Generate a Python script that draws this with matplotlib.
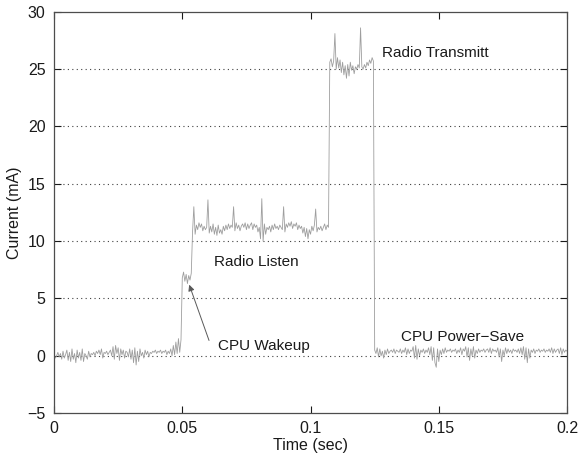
import numpy as np
import matplotlib
matplotlib.use('Agg')
import matplotlib.pyplot as plt

plt.rcParams['font.family'] = ['Liberation Sans', 'DejaVu Sans']

dt = 0.0005

idle_before = [0.1, -0.2, 0.0, 0.3, -0.1, 0.2, -0.3, 0.4, -0.2, 0.1,
               0.5, -0.4, 0.3, -0.5, 0.6, -0.3, 0.2, -0.6, 0.5, -0.2,
               0.3, -0.4, 0.6, -0.5, 0.2, 0.0, -0.3, 0.4, -0.1, 0.2,
               0.1, 0.3, 0.0, 0.4, 0.2, 0.5, 0.1, 0.6, -0.2, 0.3,
               0.2, 0.4, 0.1, 0.3, 0.5, 0.0, 0.8, -0.3, 0.9, 0.2,
               0.7, -0.4, 0.6, 0.1, 0.5, -0.2, 0.4, 0.3, -0.1, 0.6,
               -0.3, 0.5, -0.6, 0.7, -0.8, 0.4, -0.5, 0.6, 0.0, 0.3,
               -0.2, 0.5, 0.1, 0.4, -0.1, 0.3, 0.2, 0.4, 0.3, 0.5,
               0.2, 0.4, 0.3, 0.5, 0.2, 0.4, 0.3, 0.5, 0.1, 0.4,
               0.2, 0.6, 0.0, 0.9, 0.1, 1.2, 0.2, 1.5, 0.3, 1.4]
wakeup = [6.8, 7.3, 6.5, 7.1, 6.3, 7.0, 6.6, 7.2]
listen = [10.8, 13.0, 10.6, 11.4, 11.0, 11.6, 11.2, 11.5, 10.9, 11.3,
          11.0, 11.2, 13.6, 10.7, 11.3, 10.8, 11.5, 10.6, 11.2, 10.5,
          11.4, 10.7, 11.0, 10.6, 11.3, 10.9, 11.4, 11.0, 11.5, 11.1,
          11.4, 11.2, 13.0, 10.9, 11.6, 11.1, 11.4, 10.9, 11.3, 11.5,
          11.2, 11.6, 11.0, 11.5, 11.1, 11.4, 11.6, 11.0, 11.5, 11.2,
          11.4, 10.8, 11.2, 10.2, 13.7, 10.0, 11.5, 10.6, 11.2, 11.0,
          11.3, 10.8, 11.4, 11.0, 11.5, 11.1, 11.3, 11.0, 11.4, 11.2,
          11.0, 13.0, 10.8, 11.5, 11.2, 11.6, 11.3, 11.7, 11.1, 11.5,
          11.3, 11.6, 11.0, 11.4, 11.1, 11.3, 10.7, 11.2, 10.4, 11.1,
          10.2, 11.0, 10.6, 11.3, 10.9, 11.4, 12.8, 10.8, 11.2, 11.0,
          11.3, 10.9, 11.2, 11.5, 11.0, 11.4, 11.2]
transmit = [25.6, 25.9, 25.2, 25.7, 28.1, 25.0, 26.0, 25.1, 25.8, 24.7,
            25.6, 24.5, 25.3, 24.2, 25.4, 24.4, 25.6, 24.9, 25.3, 24.6,
            25.2, 25.0, 25.4, 25.1, 28.6, 25.2, 25.0, 25.4, 25.1, 25.6,
            25.3, 25.8, 25.5, 26.0, 25.7]
power_save = [0.5, 0.2, 0.7, -0.1, 0.6, 0.0, 0.4, -0.2, 0.5, 0.1,
              0.6, 0.2, 0.4, 0.5, 0.3, 0.6, 0.2, 0.5, 0.4, 0.3,
              0.6, 0.2, 0.5, 0.3, 0.7, 0.1, 0.6, 0.2, 0.5, 0.4,
              0.8, -0.2, 0.9, -0.3, 0.6, 0.0, 0.5, 0.3, 0.6, 0.2,
              0.5, 0.3, 0.7, 0.1, 0.8, -0.4, 0.7, -0.6, -1.0, 0.6,
              -0.5, 0.5, 0.1, 0.6, 0.2, 0.7, 0.3, 0.5, 0.4, 0.6,
              0.3, 0.5, 0.4, 0.6, 0.2, 0.5, 0.3, 0.7, 0.1, 0.6,
              0.4, 0.8, -0.1, 0.7, -0.4, 0.6, 0.0, 0.8, -0.2, 0.5,
              0.2, 0.6, 0.3, 0.5, 0.4, 0.6, 0.3, 0.5, 0.6, 0.3,
              0.7, 0.2, 0.6, 0.4, 0.5, 0.3, 0.7, -0.1, 0.6, -0.5,
              0.5, 0.0, 0.7, 0.2, 0.6, 0.3, 0.5, 0.2, 0.6, 0.4,
              0.5, 0.3, 0.6, 0.2, 0.7, 0.1, 0.8, -0.3, 0.7, -0.6,
              0.6, -0.2, 0.5, 0.3, 0.6, 0.2, 0.5, 0.4, 0.6, 0.3,
              0.5, 0.4, 0.6, 0.3, 0.5, 0.4, 0.6, 0.3, 0.7, 0.2,
              0.6, 0.3, 0.5, 0.6, 0.2, 0.7, 0.1, 0.6, 0.3, 0.5,
              0.4]

current = np.array(idle_before + wakeup + listen + transmit + power_save)
t = np.arange(len(current)) * dt

yticks = [-5, 0, 5, 10, 15, 20, 25, 30]
xticks = [0, 0.05, 0.1, 0.15, 0.2]
xticklabels = ['0', '0.05', '0.1', '0.15', '0.2']

fig = plt.figure(figsize=(5.81, 4.53), dpi=100)
ax = fig.add_axes([0.093, 0.088, 0.883, 0.886])

ax.plot(t, current, color='0.62', lw=0.6)

for y in yticks[1:-1]:
    ax.axhline(y, color='0.25', lw=0.8, ls=(0, (1, 3)), zorder=0)

ax.set_xlim(0, 0.2)
ax.set_ylim(-5, 30)
ax.set_xticks(xticks)
ax.set_xticklabels(xticklabels)
ax.set_yticks(yticks)
ax.set_yticklabels(['\u22125', '0', '5', '10', '15', '20', '25', '30'])
ax.tick_params(direction='in', top=True, right=True, length=5, width=0.8,
               labelsize=11.5, colors='0.1', pad=6)
for sp in ax.spines.values():
    sp.set_color('0.3')
    sp.set_linewidth(0.9)

ax.set_xlabel('Time (sec)', fontsize=11.5, color='0.1', labelpad=1)
ax.set_ylabel('Current (mA)', fontsize=11.5, color='0.1', labelpad=4)

fs = 11
ax.text(0.128, 26.4, 'Radio Transmitt', fontsize=fs, va='center', color='0.1')
ax.text(0.0624, 8.2, 'Radio Listen', fontsize=fs, va='center', color='0.1')
ax.text(0.1353, 1.6, 'CPU Power\u2212Save', fontsize=fs, va='center', color='0.1')
ax.annotate('CPU Wakeup', xy=(0.0527, 6.2), xytext=(0.064, 0.85),
            fontsize=fs, va='center', color='0.1',
            arrowprops=dict(arrowstyle='-|>', color='0.35', lw=0.7,
                            mutation_scale=9, shrinkA=0, shrinkB=0,
                            relpos=(-0.1, 0.9)))

plt.savefig('out.png', dpi=100)
